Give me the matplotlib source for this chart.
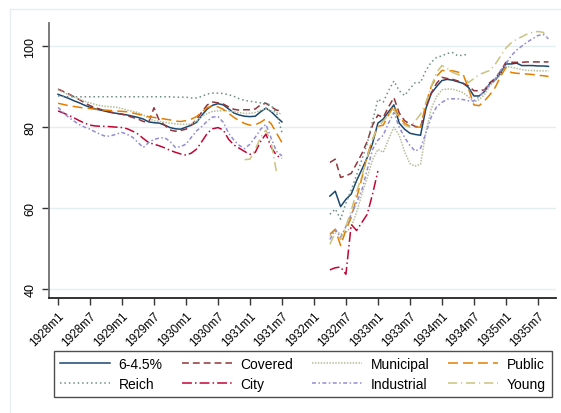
import numpy as np
import matplotlib
matplotlib.use("Agg")
import matplotlib.pyplot as plt

plt.rcParams['font.family'] = ['Liberation Sans', 'DejaVu Sans']

nan = np.nan

# months counted from 1928m1: first block 1928m1-1931m7, second block 1932m4-1935m9
months_a = list(range(0, 43))
months_b = list(range(51, 93))

tick_months = [0, 6, 12, 18, 24, 30, 36, 42, 48, 54, 60, 66, 72, 78, 84, 90]
tick_labels = ["1928m1", "1928m7", "1929m1", "1929m7", "1930m1", "1930m7",
               "1931m1", "1931m7", "1932m1", "1932m7", "1933m1", "1933m7",
               "1934m1", "1934m7", "1935m1", "1935m7"]
y_ticks = [40, 60, 80, 100]

# series values, block a then block b
s645_a = [88.1, 87.6, 87.1, 86.5, 86.0, 85.4, 84.9, 84.5, 84.2, 83.9,
          83.6, 83.4, 83.2, 83.0, 82.7, 82.4, 82.0, 81.3, 81.1, 81.0,
          80.5, 79.9, 79.6, 79.5, 80.0, 80.5, 81.2, 83.0, 84.5, 85.4,
          85.8, 85.5, 84.5, 83.5, 83.0, 82.7, 82.6, 82.7, 83.8, 84.7,
          83.8, 82.5, 81.3]
s645_b = [63.0, 64.2, 60.4, 62.2, 63.5, 66.8, 69.6, 72.5, 76.0, 81.0,
          82.0, 83.8, 85.5, 81.0, 79.5, 78.5, 78.2, 78.0, 84.6, 88.3,
          90.0, 91.5, 91.8, 91.6, 91.2, 90.8, 89.8, 87.7, 87.7, 88.8,
          90.8, 91.6, 93.2, 95.6, 95.6, 95.8, 95.2, 95.2, 95.2, 95.1,
          95.1, 95.0]

covered_a = [89.4, 88.8, 88.2, 87.5, 86.8, 86.0, 85.3, 84.8, 84.4, 84.0,
             83.7, 83.4, 83.2, 82.8, 82.4, 82.0, 81.4, 81.2, 84.8, 81.6,
             80.5, 79.3, 79.0, 79.2, 79.5, 80.5, 82.0, 83.8, 85.5, 86.2,
             86.0, 85.7, 85.0, 84.4, 84.2, 84.3, 84.3, 84.5, 85.5, 85.9,
             85.0, 84.2, 84.0]
covered_b = [71.3, 72.1, 67.6, 68.0, 68.6, 71.0, 73.5, 76.5, 80.5, 83.0,
             82.4, 85.0, 87.3, 83.5, 81.6, 80.8, 80.2, 79.9, 85.0, 88.4,
             90.8, 92.3, 92.0, 91.8, 91.4, 90.8, 90.2, 89.0, 89.0, 89.2,
             91.0, 92.0, 93.8, 96.0, 96.0, 96.0, 96.0, 96.1, 96.1, 96.1,
             96.1, 96.1]

municipal_a = [89.2, 88.6, 88.0, 87.4, 86.9, 86.4, 86.0, 85.6, 85.3, 85.1,
               85.0, 84.9, 84.6, 84.2, 83.9, 83.6, 83.0, 82.2, 81.6, 81.4,
               81.2, 81.0, 80.8, 80.7, 80.7, 80.8, 81.5, 82.6, 83.4, 83.9,
               84.0, 84.1, 84.0, 83.8, 83.6, 83.4, 83.4, 83.6, 84.2, 84.5,
               84.0, 83.6, 83.2]
municipal_b = [53.2, 54.6, 53.6, 54.0, 55.4, 59.0, 63.5, 67.5, 72.0, 74.5,
               73.8, 77.0, 80.0, 78.0, 74.0, 71.0, 70.4, 70.9, 78.8, 84.5,
               87.5, 89.2, 89.4, 89.4, 89.0, 88.5, 87.5, 86.2, 86.8, 88.0,
               90.2, 91.5, 93.0, 95.0, 94.8, 94.5, 94.2, 94.0, 94.0, 93.9,
               93.9, 93.9]

public_a = [85.9, 85.6, 85.3, 85.1, 84.9, 84.7, 84.6, 84.4, 84.3, 84.2,
            84.1, 84.0, 83.9, 83.8, 83.5, 83.2, 82.9, 82.6, 82.4, 82.2,
            82.0, 81.8, 81.5, 81.4, 81.6, 82.0, 82.6, 83.8, 84.8, 85.3,
            85.0, 84.4, 83.4, 82.4, 81.6, 80.9, 80.5, 80.6, 81.2, 82.1,
            80.8, 78.5, 76.2]
public_b = [53.6, 54.8, 50.8, 54.6, 57.8, 62.5, 67.5, 73.0, 77.0, 80.2,
            80.5, 83.0, 85.4, 82.5, 81.0, 80.2, 80.0, 80.0, 85.8, 90.0,
            92.5, 94.0, 93.9, 93.9, 93.6, 93.0, 89.5, 85.5, 85.3, 86.5,
            88.0, 89.8, 92.5, 94.7, 93.5, 93.3, 93.2, 93.1, 93.0, 92.8,
            92.7, 92.5]

reich_a = [87.7, 87.6, 87.5, 87.5, 87.5, 87.5, 87.5, 87.5, 87.5, 87.5,
           87.5, 87.5, 87.5, 87.5, 87.5, 87.5, 87.5, 87.5, 87.5, 87.5,
           87.5, 87.5, 87.4, 87.4, 87.4, 87.2, 87.2, 87.6, 88.2, 88.4,
           88.4, 88.3, 88.0, 87.6, 87.0, 86.6, 86.4, 86.2, 86.0, 86.0,
           85.3, 83.5, 78.7]
reich_b = [58.5, 59.8, 57.3, 61.2, 64.5, 68.2, 72.0, 76.0, 81.5, 86.9,
           86.2, 89.0, 91.4, 89.0, 87.8, 89.5, 91.0, 91.0, 94.0, 96.0,
           97.2, 97.6, 98.2, 98.4, 97.6, 97.8, 98.0, nan, nan, nan,
           nan, nan, nan, nan, nan, nan, nan, nan, nan, nan,
           nan, nan]

city_a = [84.0, 83.5, 82.9, 82.3, 81.6, 81.0, 80.5, 80.3, 80.2, 80.2,
          80.1, 80.0, 79.9, 79.6, 79.0, 78.3, 77.2, 76.2, 75.8, 75.4,
          74.9, 74.3, 73.8, 73.4, 73.1, 73.6, 74.6, 76.5, 78.5, 79.6,
          79.9, 79.3, 77.0, 75.6, 74.8, 74.0, 73.3, 73.8, 76.5, 78.3,
          75.0, 73.0, 72.3]
city_b = [44.8, 45.3, 45.5, 43.7, 56.0, 54.5, 56.5, 58.5, 63.5, 69.2,
          nan, nan, nan, nan, nan, nan, nan, nan, nan, nan,
          nan, nan, nan, nan, nan, nan, nan, nan, nan, nan,
          nan, nan, nan, nan, nan, nan, nan, nan, nan, nan,
          nan, nan]

industrial_a = [84.9, 83.6, 82.4, 81.5, 80.6, 80.0, 79.5, 78.8, 78.2, 77.7,
                77.9, 78.3, 78.7, 78.2, 77.5, 76.2, 75.0, 76.2, 77.0, 77.3,
                77.4, 76.5, 75.0, 75.2, 75.8, 77.5, 79.1, 80.2, 81.5, 82.5,
                82.6, 81.2, 78.5, 76.8, 75.5, 74.7, 75.8, 77.5, 79.5, 80.7,
                77.2, 74.0, 72.9]
industrial_b = [52.3, 54.8, 52.8, 55.5, 58.5, 61.4, 64.5, 69.5, 74.5, 76.8,
                78.0, 81.0, 83.6, 80.0, 77.5, 75.5, 74.1, 74.8, 78.5, 82.5,
                85.0, 86.1, 86.9, 87.0, 87.0, 86.8, 86.5, 86.5, 87.5, 89.0,
                90.5, 91.9, 94.0, 95.6, 97.6, 99.0, 100.0, 101.0, 101.8, 102.6,
                102.9, 101.8]

young_a = [nan, nan, nan, nan, nan, nan, nan, nan, nan, nan,
           nan, nan, nan, nan, nan, nan, nan, nan, nan, nan,
           nan, nan, nan, nan, nan, nan, nan, nan, nan, nan,
           nan, nan, nan, nan, nan, 72.0, 72.1, 74.5, 77.5, 79.3,
           76.0, 68.8, nan]
young_b = [51.1, 54.0, 52.3, 55.5, 59.5, 64.0, 68.0, 72.5, 77.0, 80.0,
           81.5, 83.0, 84.4, 82.0, 80.5, 80.0, 81.5, 83.2, 86.0, 90.0,
           93.5, 95.2, 94.5, 93.5, 93.0, 92.5, 91.0, 92.0, 93.0, 93.5,
           94.0, 95.5, 97.5, 99.5, 100.8, 101.7, 102.3, 103.0, 103.4, 103.6,
           103.4, 101.7]

series = [
    ("6-4.5%", s645_a, s645_b, "#1a476f", "-"),
    ("Covered", covered_a, covered_b, "#90353b", (0, (4.5, 2.6))),
    ("Municipal", municipal_a, municipal_b, "#b4bf9c", (0, (1, 0.9))),
    ("Public", public_a, public_b, "#e37e00", (0, (6.5, 3.3))),
    ("Reich", reich_a, reich_b, "#6e8e84", (0, (1, 1.9))),
    ("City", city_a, city_b, "#c10534", (0, (6.5, 2, 1, 2))),
    ("Industrial", industrial_a, industrial_b, "#938dd2", (0, (2.6, 1.6, 1, 1.6))),
    ("Young", young_a, young_b, "#cac27e", (0, (6, 2.5, 0.8, 2.5))),
]

fig = plt.figure(figsize=(5.61, 4.14), dpi=100)
ax = fig.add_axes([0.0873, 0.2778, 0.9037, 0.6642])

x = np.array(months_a + [nan] + months_b, dtype=float)
handles = {}
for name, a, b, color, ls in series:
    y = np.array(a + [nan] + b, dtype=float)
    ln, = ax.plot(x, y, color=color, linestyle=ls, linewidth=1.1, label=name)
    handles[name] = ln

ax.set_xlim(-1.7, 93.4)
ax.set_ylim(37.85, 105.7)

ax.set_yticks(y_ticks)
ax.set_xticks(tick_months)
ax.set_xticklabels(tick_labels, rotation=45, ha="right", va="top",
                   rotation_mode="anchor", fontsize=8.5)
ax.tick_params(axis="x", length=5, width=1, pad=3, color="#333333")
ax.tick_params(axis="y", length=5, width=1, pad=4, labelsize=9,
               labelrotation=90, color="#333333")
for lab in ax.get_yticklabels():
    lab.set_va("center")

ax.grid(axis="y", color="#e4eef0", linewidth=1)
ax.set_axisbelow(True)
for side in ["top", "right"]:
    ax.spines[side].set_visible(False)
ax.spines["left"].set_color("#6f6f6f")
ax.spines["left"].set_linewidth(1.3)
ax.spines["bottom"].set_color("#222222")
ax.spines["bottom"].set_linewidth(1.3)

# faint outer frame of the graph region
fig.add_artist(plt.Line2D([10 / 561, 1], [1 - 10 / 414, 1 - 10 / 414],
                          color="#e6eef0", linewidth=1, transform=fig.transFigure))
fig.add_artist(plt.Line2D([10 / 561, 10 / 561], [0, 1 - 10 / 414],
                          color="#e6eef0", linewidth=1, transform=fig.transFigure))

order = ["6-4.5%", "Reich", "Covered", "City", "Municipal", "Industrial",
         "Public", "Young"]
leg = fig.legend([handles[n] for n in order], order, ncol=4,
                 loc="lower left",
                 bbox_to_anchor=(54 / 561, 16 / 414, 498 / 561, 45 / 414),
                 mode="expand", fontsize=10, frameon=True, fancybox=False,
                 edgecolor="#222222", handlelength=3.6, handletextpad=0.6,
                 labelspacing=0.4, borderpad=0.45, borderaxespad=0)
leg.get_frame().set_linewidth(1)

fig.savefig("out.png", dpi=100)
